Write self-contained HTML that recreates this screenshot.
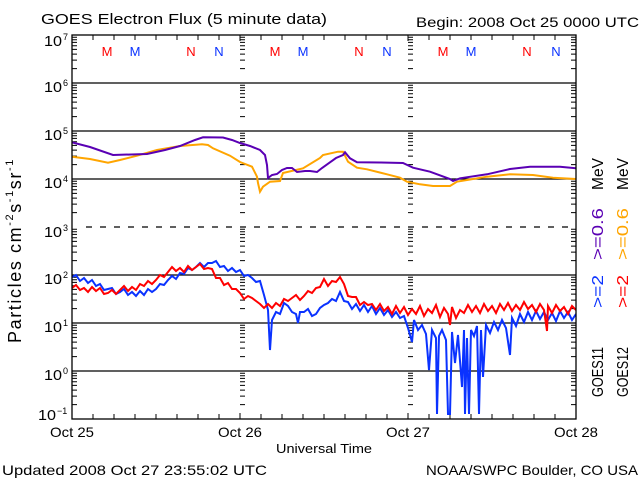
<!DOCTYPE html>
<html><head><meta charset="utf-8"><style>
html,body{margin:0;padding:0;background:#fff;}
svg{display:block;}
text{font-family:"Liberation Sans",sans-serif;fill:#000;}
</style></head><body>
<svg width="640" height="480" viewBox="0 0 640 480" xmlns="http://www.w3.org/2000/svg">
<defs>
<path id="mt" d="M0 -14.4h5M0 -22.9h5M0 -28.9h5M0 -33.6h5M0 -37.3h5M0 -40.6h5M0 -43.3h5M0 -45.8h5"/>
<clipPath id="pc"><rect x="72" y="35" width="504" height="384"/></clipPath>
</defs>
<rect width="640" height="480" fill="#fff"/>

<text x="41" y="24" font-size="15" textLength="286" lengthAdjust="spacingAndGlyphs">GOES Electron Flux (5 minute data)</text>
<text x="416" y="27" font-size="14" textLength="223" lengthAdjust="spacingAndGlyphs">Begin: 2008 Oct 25 0000 UTC</text>

<g stroke="#000" stroke-width="1.3" fill="none">
<path d="M72 83H576M72 131H576M72 179H576M72 275H576M72 323H576M72 371H576"/>
<path d="M86 227H576" stroke-dasharray="6 8" stroke-width="1.2"/>
</g>

<g stroke="#000" stroke-width="1" fill="none">
<use href="#mt" transform="translate(72,83)"/><use href="#mt" transform="translate(72,131)"/><use href="#mt" transform="translate(72,179)"/><use href="#mt" transform="translate(72,227)"/><use href="#mt" transform="translate(72,275)"/><use href="#mt" transform="translate(72,323)"/><use href="#mt" transform="translate(72,371)"/><use href="#mt" transform="translate(72,419)"/>
<use href="#mt" transform="translate(240,83)"/><use href="#mt" transform="translate(240,131)"/><use href="#mt" transform="translate(240,179)"/><use href="#mt" transform="translate(240,227)"/><use href="#mt" transform="translate(240,275)"/><use href="#mt" transform="translate(240,323)"/><use href="#mt" transform="translate(240,371)"/><use href="#mt" transform="translate(240,419)"/>
<use href="#mt" transform="translate(408,83)"/><use href="#mt" transform="translate(408,131)"/><use href="#mt" transform="translate(408,179)"/><use href="#mt" transform="translate(408,227)"/><use href="#mt" transform="translate(408,275)"/><use href="#mt" transform="translate(408,323)"/><use href="#mt" transform="translate(408,371)"/><use href="#mt" transform="translate(408,419)"/>
<use href="#mt" transform="translate(576,83) scale(-1,1)"/><use href="#mt" transform="translate(576,131) scale(-1,1)"/><use href="#mt" transform="translate(576,179) scale(-1,1)"/><use href="#mt" transform="translate(576,227) scale(-1,1)"/><use href="#mt" transform="translate(576,275) scale(-1,1)"/><use href="#mt" transform="translate(576,323) scale(-1,1)"/><use href="#mt" transform="translate(576,371) scale(-1,1)"/><use href="#mt" transform="translate(576,419) scale(-1,1)"/>
<path d="M240 227h6M408 227h6M240 131h6M408 131h6M240 83h6M408 83h6M240 179h6M408 179h6"/>
<path d="M93 419v-5M114 419v-5M135 419v-5M156 419v-5M177 419v-5M198 419v-5M219 419v-5M240 419v-6M261 419v-5M282 419v-5M303 419v-5M324 419v-5M345 419v-5M366 419v-5M387 419v-5M408 419v-6M429 419v-5M450 419v-5M471 419v-5M492 419v-5M513 419v-5M534 419v-5M555 419v-5
M93 35v5M114 35v5M135 35v5M156 35v5M177 35v5M198 35v5M219 35v5M240 35v6M261 35v5M282 35v5M303 35v5M324 35v5M345 35v5M366 35v5M387 35v5M408 35v6M429 35v5M450 35v5M471 35v5M492 35v5M513 35v5M534 35v5M555 35v5"/>
</g>

<g clip-path="url(#pc)" fill="none" stroke-width="2" stroke-linejoin="miter">
<polyline stroke="#ffa500" points="72,156.7 90,159 108,162.7 120,160 137,155.7 157,150 180,146 202,144.3 208,145 213,148.3 230,155.7 240,162 252,166.7 257,176.7 258,183 260,191.7 263,186.7 270,181.7 280,181 283,173 303,168.3 320,158 323,155 338,151.7 343,151.7 348,161.7 357,167.7 367,169.3 387,174.3 400,177.7 407,181.7 420,184.3 433,186 450,186 457,181.7 467,180 487,176.7 510,174.3 533,175 553,177.7 576,179"/>
<polyline stroke="#5a00b4" points="72,142.3 90,147 113,155 147,154 165,150 180,146 195,140 203,137.3 223,137.5 232,140 240,143 250,146 260,150 265,155 267,165 268,178 272,175 277,174 282,170 287,168 292,168 297,172 305,171 310,171 317,172 322,168 330,162.3 336,158 343,155 345,152.3 350,158.3 357,162.3 380,162.5 403,163 413,167.7 430,171.7 450,179 453,181 460,178.3 487,174.3 510,169 530,166.7 560,166.7 576,168.3"/>
<polyline stroke="#0a32ff" points="72,277 76,275 80,281 84,278 88,283 92,280 96,286 100,284 104,290 108,289 112,288 116,294 120,292 124,289 128,295 132,292 136,296 140,291 144,295 148,289 152,292 156,289 160,284 164,285 168,280 172,276 176,279 180,273 184,274 188,268 192,270 196,267 200,263 204,267 208,263 212,263 216,261 220,267 224,266 228,271 232,268 236,272 240,270 244,276 248,275 252,278 256,282 260,281 264,295 268,310 270,350 272,320 276,312 280,314 284,303 288,306 292,312 296,314 298,323 300,312 304,312 308,309 312,316 316,314 320,308 324,305 328,303 332,299 336,301 340,292 344,301 348,302 352,309 356,304 360,311 364,305 368,312 372,306 376,314 380,308 384,315 388,310 392,317 396,312 400,318 404,316 408,328 412,342 414,320 418,330 422,325 426,334 429,370 432,330 436,338 437,414 439,336 442,330 446,340 448,414 450,414 452,332 455,363 458,335 462,387 464,330 465,414 467,338 469,414 471,330 474,336 477,326 479,414 481,330 483,377 486,325 490,333 494,322 498,330 502,320 506,328 510,355 512,318 516,326 520,314 524,322 528,312 532,320 536,311 540,319 544,312 548,320 552,313 556,321 560,311 564,318 568,312 572,320 576,314"/>
<polyline stroke="#ff0000" points="72,288 76,285 80,290 84,288 88,292 92,287 96,291 100,288 104,294 108,293 112,290 116,294 120,290 124,286 128,291 132,287 136,290 140,284 144,286 148,281 152,284 156,280 160,275 164,277 168,272 172,267 176,271 180,268 184,272 188,266 192,270 196,267 200,264 204,269 208,268 212,269 216,278 220,278 224,285 228,283 232,289 236,289 240,293 244,299 248,296 252,298 256,301 260,304 264,308 268,304 272,308 276,303 280,306 284,299 288,301 292,298 296,295 300,300 304,296 308,291 312,293 316,288 320,287 324,279 328,286 332,281 336,282 340,277 344,284 348,296 352,297 356,297 360,305 364,302 368,305 372,304 376,310 380,304 384,311 388,307 392,314 396,306 400,313 404,307 408,315 412,309 416,314 420,306 424,316 428,309 432,313 436,305 440,317 444,308 448,314 450,325 452,307 456,318 460,310 464,313 468,305 472,312 476,306 480,313 484,304 488,311 492,306 496,313 500,304 504,310 508,303 512,311 516,305 520,310 524,302 528,309 532,305 536,312 540,304 544,310 547,331 548,306 552,313 556,305 560,311 564,307 568,314 572,306 576,310"/>
</g>

<rect x="72" y="35" width="504" height="384" fill="none" stroke="#000" stroke-width="1.3"/>

<g font-size="13" text-anchor="middle">
<text x="107" y="56" style="fill:#ff0000">M</text><text x="135" y="56" style="fill:#0a32ff">M</text>
<text x="191" y="56" style="fill:#ff0000">N</text><text x="219" y="56" style="fill:#0a32ff">N</text>
<text x="275" y="56" style="fill:#ff0000">M</text><text x="303" y="56" style="fill:#0a32ff">M</text>
<text x="359" y="56" style="fill:#ff0000">N</text><text x="387" y="56" style="fill:#0a32ff">N</text>
<text x="443" y="56" style="fill:#ff0000">M</text><text x="471" y="56" style="fill:#0a32ff">M</text>
<text x="527" y="56" style="fill:#ff0000">N</text><text x="556" y="56" style="fill:#0a32ff">N</text>
</g>

<g font-size="15">
<text x="44" y="46" textLength="18" lengthAdjust="spacingAndGlyphs">10</text>
<text x="44" y="92" textLength="18" lengthAdjust="spacingAndGlyphs">10</text>
<text x="44" y="140" textLength="18" lengthAdjust="spacingAndGlyphs">10</text>
<text x="44" y="188" textLength="18" lengthAdjust="spacingAndGlyphs">10</text>
<text x="44" y="237" textLength="18" lengthAdjust="spacingAndGlyphs">10</text>
<text x="44" y="284" textLength="18" lengthAdjust="spacingAndGlyphs">10</text>
<text x="44" y="332" textLength="18" lengthAdjust="spacingAndGlyphs">10</text>
<text x="44" y="380" textLength="18" lengthAdjust="spacingAndGlyphs">10</text>
<text x="38" y="420" textLength="18" lengthAdjust="spacingAndGlyphs">10</text>
</g>
<g font-size="9">
<text x="63" y="40">7</text>
<text x="63" y="86">6</text>
<text x="63" y="134">5</text>
<text x="63" y="182">4</text>
<text x="63" y="231">3</text>
<text x="63" y="278">2</text>
<text x="63" y="326">1</text>
<text x="63" y="374">0</text>
<text x="57" y="414">−1</text>
</g>

<text transform="translate(21,343) rotate(-90)" font-size="18" style="letter-spacing:1.6px">Particles cm<tspan font-size="11" dy="-8">-2</tspan><tspan dy="8">s</tspan><tspan font-size="11" dy="-8">-1</tspan><tspan dy="8">sr</tspan><tspan font-size="11" dy="-8">-1</tspan></text>

<g font-size="14">
<text x="50" y="437" textLength="44" lengthAdjust="spacingAndGlyphs">Oct 25</text>
<text x="218" y="437" textLength="44" lengthAdjust="spacingAndGlyphs">Oct 26</text>
<text x="386" y="437" textLength="44" lengthAdjust="spacingAndGlyphs">Oct 27</text>
<text x="554" y="437" textLength="44" lengthAdjust="spacingAndGlyphs">Oct 28</text>
</g>
<text x="276" y="453" font-size="13" textLength="96" lengthAdjust="spacingAndGlyphs">Universal Time</text>

<text x="2" y="475" font-size="14" textLength="265" lengthAdjust="spacingAndGlyphs">Updated 2008 Oct 27 23:55:02 UTC</text>
<text x="426" y="475" font-size="14" textLength="212" lengthAdjust="spacingAndGlyphs">NOAA/SWPC Boulder, CO USA</text>

<g font-size="16">
<text transform="translate(603,397) rotate(-90)" textLength="50" lengthAdjust="spacingAndGlyphs">GOES11</text>
<text transform="translate(603,308) rotate(-90)" textLength="33" lengthAdjust="spacingAndGlyphs" style="fill:#0a32ff">&gt;=2</text>
<text transform="translate(603,260) rotate(-90)" textLength="52" lengthAdjust="spacingAndGlyphs" style="fill:#5a00b4">&gt;=0.6</text>
<text transform="translate(603,190) rotate(-90)" textLength="32" lengthAdjust="spacingAndGlyphs">MeV</text>
<text transform="translate(628,397) rotate(-90)" textLength="50" lengthAdjust="spacingAndGlyphs">GOES12</text>
<text transform="translate(628,308) rotate(-90)" textLength="33" lengthAdjust="spacingAndGlyphs" style="fill:#ff0000">&gt;=2</text>
<text transform="translate(628,260) rotate(-90)" textLength="52" lengthAdjust="spacingAndGlyphs" style="fill:#ffa500">&gt;=0.6</text>
<text transform="translate(628,190) rotate(-90)" textLength="32" lengthAdjust="spacingAndGlyphs">MeV</text>
</g>
</svg>
</body></html>
